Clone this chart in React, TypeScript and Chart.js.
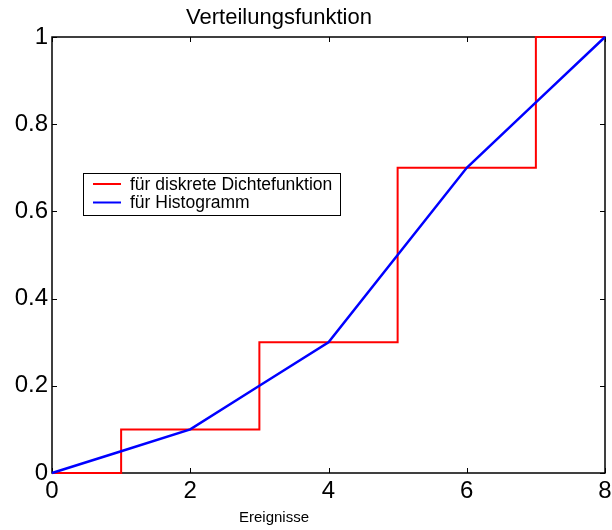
import React, { useEffect, useRef } from "react";
import { Chart, registerables } from "chart.js";

Chart.register(...registerables);

const histX = [0, 1, 2, 3, 4, 5, 6, 7, 8];
const histY = [0, 0.05, 0.1, 0.2, 0.3, 0.5, 0.7, 0.85, 1];
const stepX = [0, 1, 3, 5, 7, 8];
const stepY = [0, 0.1, 0.3, 0.7, 1, 1];
const labelStep = "für diskrete Dichtefunktion";
const labelHist = "für Histogramm";
const titleText = "Verteilungsfunktion";
const xLabelText = "Ereignisse";

const FONT = '"Liberation Sans", Arial, Helvetica, sans-serif';

const framePlugin = {
  id: "matlabFrame",
  beforeDatasetsDraw(chart: any) {
    const { ctx, chartArea } = chart;
    const { left, right, top, bottom } = chartArea;
    ctx.save();
    ctx.strokeStyle = "#000";
    ctx.lineWidth = 1;
    const xs = chart.scales.x;
    const ys = chart.scales.y;
    const tl = 5;
    ctx.beginPath();
    xs.ticks.forEach((t: any) => {
      const px = Math.round(xs.getPixelForValue(t.value)) + 0.5;
      ctx.moveTo(px, bottom);
      ctx.lineTo(px, bottom - tl);
      ctx.moveTo(px, top);
      ctx.lineTo(px, top + tl);
    });
    ys.ticks.forEach((t: any) => {
      const py = Math.round(ys.getPixelForValue(t.value)) + 0.5;
      ctx.moveTo(left, py);
      ctx.lineTo(left + tl, py);
      ctx.moveTo(right, py);
      ctx.lineTo(right - tl, py);
    });
    ctx.stroke();
    ctx.lineWidth = 1.5;
    ctx.strokeRect(left, top, right - left, bottom - top);
    ctx.restore();
  },
  afterDraw(chart: any) {
    const { ctx } = chart;
    ctx.save();
    ctx.fillStyle = "#000";
    ctx.textAlign = "center";
    ctx.textBaseline = "alphabetic";
    ctx.font = `22px ${FONT}`;
    ctx.fillText(titleText, 279, 24);
    ctx.font = `15px ${FONT}`;
    ctx.fillText(xLabelText, 274, 521.5);

    // legend
    const bx = 83.5, by = 173.5, bw = 257, bh = 42;
    ctx.fillStyle = "#fff";
    ctx.fillRect(bx, by, bw, bh);
    ctx.strokeStyle = "#000";
    ctx.lineWidth = 1;
    ctx.strokeRect(bx, by, bw, bh);
    const ds = chart.data.datasets;
    const rows = [
      { y: 184, ds: ds[1] },
      { y: 202.5, ds: ds[0] },
    ];
    ctx.font = `17.5px ${FONT}`;
    ctx.textAlign = "left";
    ctx.textBaseline = "middle";
    rows.forEach((r) => {
      ctx.strokeStyle = r.ds.borderColor;
      ctx.lineWidth = 2;
      ctx.beginPath();
      ctx.moveTo(93, r.y);
      ctx.lineTo(121, r.y);
      ctx.stroke();
      ctx.fillStyle = "#000";
      ctx.fillText(r.ds.label, 130, r.y + 1);
    });
    ctx.restore();
  },
};

export default function App() {
  const ref = useRef<HTMLCanvasElement>(null);
  useEffect(() => {
    document.body.style.margin = "0";
    const canvas = ref.current!;
    const chart = new Chart(canvas, {
      type: "line",
      data: {
        datasets: [
          {
            label: labelHist,
            data: histX.map((x, i) => ({ x, y: histY[i] })),
            borderColor: "#0000ff",
            borderWidth: 2.5,
            pointRadius: 0,
            fill: false,
            tension: 0,
            clip: false as any,
            order: 0,
          },
          {
            label: labelStep,
            data: stepX.map((x, i) => ({ x, y: stepY[i] })),
            borderColor: "#ff0000",
            borderWidth: 2,
            pointRadius: 0,
            fill: false,
            stepped: "before",
            clip: false as any,
            order: 1,
          },
        ],
      },
      options: {
        animation: false,
        responsive: false,
        maintainAspectRatio: false,
        layout: { padding: { top: 37, right: 7, left: 0, bottom: 0 } },
        plugins: {
          legend: { display: false },
          title: { display: false },
          tooltip: { enabled: false },
        },
        scales: {
          x: {
            type: "linear",
            min: 0,
            max: 8,
            afterFit: (s: any) => {
              s.height = 57;
              s.paddingLeft = 0;
              s.paddingRight = 0;
            },
            grid: { display: false, drawTicks: false },
            border: { display: false },
            ticks: {
              stepSize: 2,
              padding: 4,
              color: "#000",
              font: { family: FONT, size: 24 },
              maxRotation: 0,
            },
          },
          y: {
            type: "linear",
            min: 0,
            max: 1,
            afterFit: (s: any) => {
              s.width = 52;
              s.paddingTop = 0;
              s.paddingBottom = 0;
            },
            grid: { display: false, drawTicks: false },
            border: { display: false },
            ticks: {
              stepSize: 0.2,
              padding: 4,
              color: "#000",
              font: { family: FONT, size: 24 },
              callback: (v: any) => String(Math.round(Number(v) * 10) / 10),
            },
          },
        },
      },
      plugins: [framePlugin],
    });
    return () => chart.destroy();
  }, []);
  return (
    <canvas
      ref={ref}
      width={612}
      height={530}
      style={{ display: "block", width: 612, height: 530 }}
    />
  );
}
